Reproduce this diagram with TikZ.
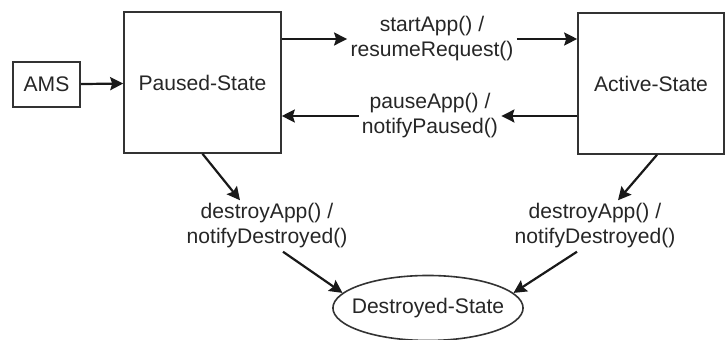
\documentclass[tikz,border=0pt]{standalone}
\usepackage{fontspec}
\setmainfont{Liberation Sans}
\usepackage{tikz}
\usetikzlibrary{shapes.geometric, arrows.meta}

\begin{document}
\begin{tikzpicture}[
    x=0.5pt, y=-0.5pt,
    every node/.style={font=\fontsize{10.55}{12.5}\selectfont, text=black!85},
    box/.style={draw=black!80, line width=0.8pt, inner sep=0pt},
    trans/.style={align=center, inner sep=1.5pt},
    arrow/.style={-{Stealth[length=6.5pt, width=6.5pt, inset=1pt]}, line width=1.1pt, black!90}
]
\useasboundingbox (0,0) rectangle (725,340);

% states
\node[box, minimum width=33.5pt, minimum height=22.5pt] (AMS) at (46.5,84.5) {AMS};
\node[box, minimum width=78.5pt, minimum height=70.5pt] (P) at (202.5,82.5) {Paused-State};
\node[box, minimum width=73pt, minimum height=70.5pt] (A) at (651,83.5) {Active-State};
\node[box, shape=ellipse, inner xsep=-4.5pt, inner ysep=5.2pt,
      minimum width=95pt, minimum height=32.5pt] (D) at (428,308) {Destroyed-State};

% transition labels
\node[trans] (start) at (432,39) {startApp() /\\resumeRequest()};
\node[trans] (pause) at (430,116) {pauseApp() /\\notifyPaused()};
\node[trans] (pdest) at (267,226) {destroyApp() /\\notifyDestroyed()};
\node[trans] (adest) at (595,226) {destroyApp() /\\notifyDestroyed()};

% arrows
\draw[arrow] (AMS) -- (P);
\draw[arrow] (P.east |- start) -- (start);
\draw[arrow] (start) -- (A.west |- start);
\draw[arrow] (A.west |- pause) -- (pause);
\draw[arrow] (pause) -- (P.east |- pause);
\draw[arrow] (P.south) -- ([xshift=-13.5pt]pdest.north);
\draw[arrow] ([xshift=8pt]pdest.south) -- (D.170);
\draw[arrow] ([xshift=3pt]A.south) -- ([xshift=11.5pt]adest.north);
\draw[arrow] ([xshift=-9pt]adest.south) -- (D.10);

\end{tikzpicture}
\end{document}
